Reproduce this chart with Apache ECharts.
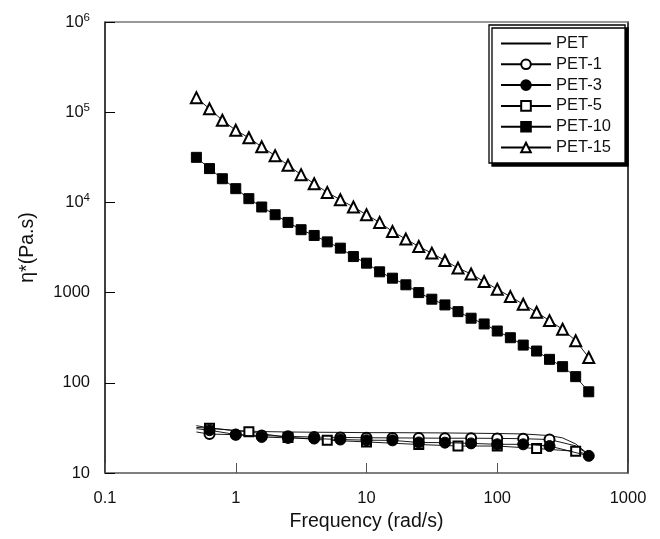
<!DOCTYPE html>
<html>
<head>
<meta charset="utf-8">
<script src="https://cdn.jsdelivr.net/npm/echarts@6/dist/echarts.min.js"></script>
<style>
html,body{margin:0;padding:0;background:#fff;}
#c{width:660px;height:539px;}
</style>
</head>
<body>
<div id="c"></div>
<script>
// ---- data ----
var seriesNames = ['PET', 'PET-1', 'PET-3', 'PET-5', 'PET-10', 'PET-15'];

var fullFreq = [0.5, 0.63, 0.79, 1, 1.26, 1.58, 2, 2.51, 3.16, 3.98, 5.01, 6.31, 7.94, 10, 12.6, 15.8, 20, 25.1, 31.6, 39.8, 50.1, 63.1, 79.4, 100, 126, 158, 200, 251, 316, 398, 501];

var pet10Val = [31600, 23700, 18300, 14200, 11000, 8890, 7300, 6000, 4980, 4300, 3650, 3110, 2510, 2120, 1700, 1445, 1220, 1000, 845, 730, 615, 520, 449, 375, 316, 262, 225, 182, 151, 117, 79.5];
var pet15Val = [145000, 109000, 81500, 63000, 52000, 41300, 33000, 25800, 20300, 16100, 12900, 10700, 8890, 7300, 6000, 4760, 3920, 3240, 2740, 2270, 1870, 1610, 1325, 1090, 903, 743, 605, 489, 392, 293, 191];

var petFreq = [0.5, 0.63, 1, 1.58, 2.51, 3.98, 6.31, 10, 15.8, 25.1, 39.8, 63.1, 100, 158, 251, 316, 398, 501];
var petVal  = [33.5, 31.5, 29.5, 28.8, 28.5, 28.3, 28.2, 28, 28, 27.9, 27.8, 27.6, 27.4, 27.1, 26, 24.5, 21, 16];

var pet1Freq = [0.5, 0.63, 1, 1.58, 2.51, 3.98, 6.31, 10, 15.8, 25.1, 39.8, 63.1, 100, 158, 251, 398, 501];
var pet1Val  = [28.5, 27, 26.6, 26, 25.5, 25, 24.8, 24.6, 24.5, 24.4, 24.3, 24.3, 24.2, 24, 23.5, 20, 16];
var pet1Marked = [0.63, 1, 1.58, 2.51, 3.98, 6.31, 10, 15.8, 25.1, 39.8, 63.1, 100, 158, 251];

var pet3Freq = [0.5, 0.63, 1, 1.58, 2.51, 3.98, 6.31, 10, 15.8, 25.1, 39.8, 63.1, 100, 158, 251, 501];
var pet3Val  = [31, 29.8, 26.7, 25.1, 24.5, 24.1, 23.5, 23.1, 23, 21.8, 21.7, 21.3, 20.8, 20.8, 19.9, 15.5];
var pet3Marked = [0.63, 1, 1.58, 2.51, 3.98, 6.31, 10, 15.8, 25.1, 39.8, 63.1, 100, 158, 251, 501];

var pet5Freq = [0.5, 0.63, 1.26, 2.51, 5.01, 10, 25.1, 50.1, 100, 200, 398, 501];
var pet5Val  = [32, 31.4, 28.6, 24.8, 23.1, 22.1, 20.7, 19.9, 19.9, 18.7, 17.4, 16];
var pet5Marked = [0.63, 1.26, 2.51, 5.01, 10, 25.1, 50.1, 100, 200, 398];

var xTicks = [0.1, 1, 10, 100, 1000];
var yTicks = [10, 100, 1000, 1e4, 1e5, 1e6];

// ---- build ----
function pts(fr, vals, marked) {
  return fr.map(function (f, i) {
    var item = { value: [f, vals[i]] };
    if (marked && marked.indexOf(f) < 0) item.symbol = 'none';
    return item;
  });
}

var FONT = '"Liberation Sans", Arial, Helvetica, sans-serif';
var lineStyle = { color: '#000', width: 0.9 };

function mk(name, data, symbol, size, z) {
  return {
    name: name, type: 'line', data: data,
    symbol: symbol, symbolSize: size, showAllSymbol: true,
    lineStyle: lineStyle,
    itemStyle: { color: '#000', borderColor: '#000', borderWidth: 1 },
    emphasis: { disabled: true },
    animation: false, z: z || 2
  };
}

var legendData = seriesNames.map(function (n) {
  // plain line (no marker) for the first series
  return n === 'PET' ? { name: n, itemStyle: { opacity: 0 } } : { name: n };
});

var chart = echarts.init(document.getElementById('c'), null, { renderer: 'canvas' });
chart.setOption({
  backgroundColor: '#fff',
  animation: false,
  textStyle: { fontFamily: FONT, color: '#111' },
  grid: { left: 105, right: 32, top: 22, bottom: 66, containLabel: false },
  legend: {
    data: legendData,
    orient: 'vertical',
    left: 489, top: 25,
    padding: [10, 14, 7, 11],
    itemWidth: 50, itemHeight: 12, itemGap: 3.8,
    backgroundColor: '#fff',
    borderColor: '#000', borderWidth: 1.3,
    shadowColor: '#000', shadowOffsetX: 3, shadowOffsetY: 3, shadowBlur: 0,
    textStyle: { fontFamily: FONT, fontSize: 16.5, color: '#111' },
    selectedMode: false
  },
  xAxis: [{
    type: 'log', logBase: 10, min: xTicks[0], max: xTicks[xTicks.length - 1],
    name: 'Frequency (rad/s)', nameLocation: 'middle', nameGap: 32,
    nameTextStyle: { fontFamily: FONT, fontSize: 19.5, color: '#111' },
    axisLine: { show: true, lineStyle: { color: '#555', width: 1.5 } },
    axisTick: { show: true, inside: true, length: 10, lineStyle: { color: '#555', width: 1 } },
    minorTick: { show: false },
    splitLine: { show: false },
    axisLabel: { fontFamily: FONT, fontSize: 16.5, color: '#111', margin: 17,
      formatter: function (v) { return String(v); } }
  }, {
    type: 'log', logBase: 10, min: xTicks[0], max: xTicks[xTicks.length - 1],
    position: 'top',
    axisLine: { show: true, lineStyle: { color: '#777', width: 1.5 } },
    axisTick: { show: false }, axisLabel: { show: false }, splitLine: { show: false }
  }],
  yAxis: [{
    type: 'log', logBase: 10, min: yTicks[0], max: yTicks[yTicks.length - 1],
    name: 'η*(Pa.s)', nameLocation: 'middle', nameGap: 67,
    nameTextStyle: { fontFamily: FONT, fontSize: 19.5, color: '#111' },
    axisLine: { show: true, lineStyle: { color: '#000', width: 1.5 } },
    axisTick: { show: true, inside: true, length: 10, lineStyle: { color: '#000', width: 1 } },
    minorTick: { show: false },
    splitLine: { show: false },
    axisLabel: {
      fontFamily: FONT, fontSize: 16.5, color: '#111', margin: 15,
      formatter: function (v) {
        var e = Math.round(Math.log10(v));
        if (e >= 4) return '{b|10}{s|' + e + '}';
        return '{b|' + Math.round(v) + '}';
      },
      rich: {
        b: { fontFamily: FONT, fontSize: 16.5, color: '#111' },
        s: { fontFamily: FONT, fontSize: 11.5, color: '#111', padding: [0, 0, 9, 0] }
      }
    }
  }, {
    type: 'log', logBase: 10, min: yTicks[0], max: yTicks[yTicks.length - 1],
    position: 'right',
    axisLine: { show: true, lineStyle: { color: '#000', width: 1.5 } },
    axisTick: { show: false }, axisLabel: { show: false }, splitLine: { show: false }
  }],
  series: [
    mk('PET', pts(petFreq, petVal), 'none', 0, 2),
    mk('PET-1', pts(pet1Freq, pet1Val, pet1Marked), 'emptyCircle', 10, 2),
    mk('PET-3', pts(pet3Freq, pet3Val, pet3Marked), 'circle', 11, 4),
    mk('PET-5', pts(pet5Freq, pet5Val, pet5Marked), 'emptyRect', 9, 3),
    mk('PET-10', pts(fullFreq, pet10Val), 'rect', 10, 2),
    mk('PET-15', pts(fullFreq, pet15Val), 'emptyTriangle', 11, 2)
  ]
});
</script>
</body>
</html>
